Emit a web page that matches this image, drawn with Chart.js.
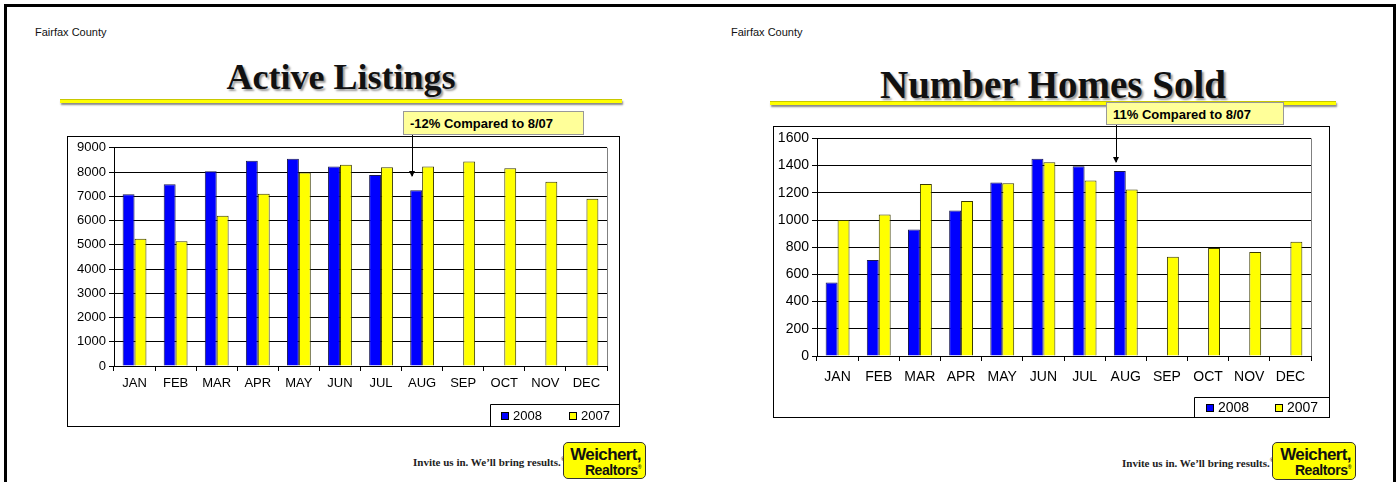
<!DOCTYPE html>
<html lang="en">
<head>
  <meta charset="UTF-8">
  <title>Fairfax County - Active Listings / Homes Sold</title>
  <script src="https://cdn.jsdelivr.net/npm/chart.js"></script>
  <style>
    body {
      margin: 0;
      width: 1400px;
      height: 482px;
      background: #fff;
      font-family: "Liberation Sans", Arial, sans-serif;
      position: relative;
      overflow: hidden;
    }
    .abs { position: absolute; }
    .frameTop { left: 4px; top: 4px; width: 1392px; height: 3px; background: #000; }
    .frameLeft { left: 4px; top: 4px; width: 3px; height: 478px; background: #000; }
    .frameRight { left: 1393px; top: 4px; width: 3px; height: 478px; background: #000; }
    .county { font-size: 11px; color: #111; }
    .title {
      font-family: "Liberation Serif", "Times New Roman", serif;
      font-weight: bold;
      color: #111;
      text-shadow: 2px 2px 2px #999;
      text-align: center;
      white-space: nowrap;
    }
    .rule {
      height: 3px;
      background: #ffff00;
      border-top: 1px solid #c8c800;
      box-shadow: 1px 2px 2px #888;
    }
    .box { border: 1px solid #000; background: #fff; }
    .box canvas { display: block; }
    .callout {
      background: #ffff99;
      border: 1px solid #999;
      font-weight: bold;
      font-size: 13px;
      padding: 4px 6px;
      box-sizing: border-box;
      white-space: nowrap;
    }
    .arrow { width: 1px; background: #000; }
    .arrow:after {
      content: "";
      position: absolute;
      left: -3px;
      bottom: -1px;
      border-left: 3.5px solid transparent;
      border-right: 3.5px solid transparent;
      border-top: 6px solid #000;
    }
    .slogan {
      font-family: "Liberation Serif", "Times New Roman", serif;
      font-weight: bold;
      font-size: 11px;
      color: #222;
      white-space: nowrap;
    }
    .slogan sup { font-size: 6px; }
    .logo {
      background: #ffff00;
      border: 1px solid #333;
      border-radius: 5px;
      box-sizing: border-box;
      text-align: right;
      font-weight: bold;
      color: #111;
      line-height: 1;
      padding: 3px 4px 0 0;
      white-space: nowrap;
    }
    .logo .w { font-size: 17px; letter-spacing: -0.6px; }
    .logo .r { font-size: 14px; letter-spacing: -0.4px; }
    .logo sup { font-size: 5px; }
  </style>
</head>
<body>
  <div class="abs frameTop"></div>
  <div class="abs frameLeft"></div>
  <div class="abs frameRight"></div>

  <!-- left slide -->
  <div class="abs county" style="left:35px; top:26px;">Fairfax County</div>
  <div class="abs title" style="left:60px; width:562px; top:56px; font-size:36px;">Active Listings</div>
  <div class="abs rule" style="left:60px; width:562px; top:99px;"></div>
  <div class="abs box" style="left:67px; top:136px; width:551px; height:289px;">
    <canvas id="listingsChart" width="551" height="289"></canvas>
  </div>
  <div class="abs callout" style="left:403px; top:111px; width:181px; height:24px;">-12% Compared to 8/07</div>
  <div class="abs arrow" style="left:412px; top:135px; height:41px;"></div>
  <div class="abs slogan" style="left:413px; top:456px;">Invite us in. We’ll bring results.<sup>®</sup></div>
  <div class="abs logo" style="left:563px; top:442px; width:83px; height:37px;"><div class="w">Weichert,</div><div class="r">Realtors<sup>®</sup></div></div>

  <!-- right slide -->
  <div class="abs county" style="left:731px; top:26px;">Fairfax County</div>
  <div class="abs title" style="left:770px; width:566px; top:62px; font-size:39px;">Number Homes Sold</div>
  <div class="abs rule" style="left:770px; width:566px; top:101px;"></div>
  <div class="abs box" style="left:773px; top:126px; width:555px; height:290px;">
    <canvas id="soldChart" width="555" height="290"></canvas>
  </div>
  <div class="abs callout" style="left:1106px; top:102px; width:178px; height:23px;">11% Compared to 8/07</div>
  <div class="abs arrow" style="left:1116px; top:125px; height:37px;"></div>
  <div class="abs slogan" style="left:1122px; top:457px;">Invite us in. We’ll bring results.<sup>®</sup></div>
  <div class="abs logo" style="left:1272px; top:442px; width:84px; height:38px;"><div class="w">Weichert,</div><div class="r">Realtors<sup>®</sup></div></div>

  <script>
    const months = ["JAN", "FEB", "MAR", "APR", "MAY", "JUN", "JUL", "AUG", "SEP", "OCT", "NOV", "DEC"];
    const seriesNames = ["2008", "2007"];

    // Active Listings
    const listings2008 = [7080, 7500, 8030, 8470, 8550, 8230, 7880, 7250, null, null, null, null];
    const listings2007 = [5250, 5150, 6200, 7100, 7980, 8300, 8200, 8230, 8440, 8160, 7600, 6900];

    // Number Homes Sold
    const sold2008 = [540, 705, 930, 1070, 1275, 1450, 1395, 1360, null, null, null, null];
    const sold2007 = [1000, 1040, 1265, 1140, 1270, 1425, 1290, 1225, 730, 795, 765, 840];

    const fontFamily = "'Liberation Sans', Arial, sans-serif";

    // right edge of the plot + the boxed legend in the bottom-right corner
    const framePlugin = {
      id: 'frames',
      afterDraw(chart, args, opts) {
        const ctx = chart.ctx;
        const a = chart.chartArea;
        ctx.save();
        ctx.strokeStyle = '#808080';
        ctx.lineWidth = 1;
        ctx.beginPath();
        ctx.moveTo(Math.round(a.right) + 0.5, a.top);
        ctx.lineTo(Math.round(a.right) + 0.5, a.bottom);
        ctx.stroke();

        // legend frame, sharing the right and bottom edge of the outer box
        const lx = opts.left + 0.5;
        const ly = chart.height - opts.height + 0.5;
        ctx.strokeStyle = '#000';
        ctx.beginPath();
        ctx.moveTo(chart.width, ly);
        ctx.lineTo(lx, ly);
        ctx.lineTo(lx, chart.height);
        ctx.stroke();

        const midY = ly + opts.height / 2;
        ctx.font = opts.fontSize + 'px ' + fontFamily;
        ctx.textBaseline = 'middle';
        chart.data.datasets.forEach((ds, i) => {
          const sx = opts.items[i];
          ctx.fillStyle = ds.backgroundColor;
          ctx.fillRect(sx, Math.round(midY - 4), 8, 8);
          ctx.strokeStyle = '#000';
          ctx.strokeRect(sx + 0.5, Math.round(midY - 4) + 0.5, 7, 7);
          ctx.fillStyle = '#000';
          ctx.fillText(ds.label, sx + 12, midY + 1);
        });
        ctx.restore();
      }
    };

    function makeChart(id, data08, data07, maxY, step, opts) {
      const ctx = document.getElementById(id).getContext('2d');
      const tickFont = { family: fontFamily, size: opts.fontSize };
      return new Chart(ctx, {
        type: 'bar',
        data: {
          labels: months,
          datasets: [
            {
              label: seriesNames[0],
              data: data08,
              backgroundColor: '#0000ff',
              borderColor: '#1a1a50',
              borderWidth: 1,
              barPercentage: 1.0,
              categoryPercentage: 0.58
            },
            {
              label: seriesNames[1],
              data: data07,
              backgroundColor: '#ffff00',
              borderColor: '#3a3a00',
              borderWidth: 1,
              barPercentage: 1.0,
              categoryPercentage: 0.58
            }
          ]
        },
        options: {
          responsive: false,
          animation: false,
          layout: { padding: opts.padding },
          plugins: {
            tooltip: { enabled: false },
            legend: { display: false },
            frames: opts.legend
          },
          scales: {
            x: {
              afterFit: (s) => { s.height = opts.xHeight; },
              grid: {
                display: true,
                offset: true,
                drawOnChartArea: false,
                drawTicks: true,
                tickLength: 5,
                color: '#000'
              },
              border: { color: '#000' },
              ticks: { color: '#000', font: tickFont, padding: opts.xPad }
            },
            y: {
              min: 0,
              max: maxY,
              afterFit: (s) => { s.width = opts.yWidth; },
              grid: { color: '#000', tickLength: 5 },
              border: { color: '#000' },
              ticks: {
                stepSize: step,
                color: '#000',
                font: tickFont,
                padding: 3,
                callback: (v) => String(v)
              }
            }
          }
        },
        plugins: [framePlugin]
      });
    }

    makeChart('listingsChart', listings2008, listings2007, 9000, 1000, {
      padding: { top: 10, right: 12, left: 0, bottom: 30 },
      xHeight: 30, yWidth: 46, xPad: 5, fontSize: 13,
      legend: { left: 422, height: 22, fontSize: 13, items: [433, 501] }
    });
    makeChart('soldChart', sold2008, sold2007, 1600, 200, {
      padding: { top: 10, right: 18, left: 0, bottom: 31 },
      xHeight: 30, yWidth: 43, xPad: 8, fontSize: 14,
      legend: { left: 420, height: 20, fontSize: 14, items: [432, 501] }
    });
  </script>
</body>
</html>
